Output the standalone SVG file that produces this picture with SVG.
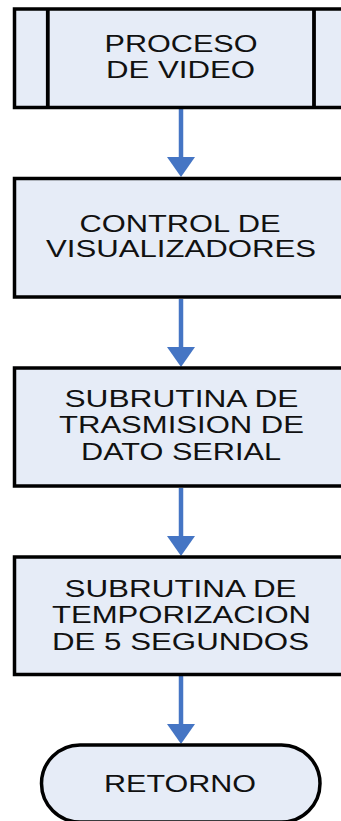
<svg xmlns="http://www.w3.org/2000/svg" width="341" height="821" viewBox="0 0 341 821">
<style>
.box{fill:#E6ECF7;stroke:#000;stroke-width:3.5}
.sep{stroke:#000;stroke-width:3.8;fill:none}
.lbl{font-family:"Liberation Sans",Arial,sans-serif;font-size:23px;fill:#111;text-anchor:middle}
.conn{stroke:#4575C4;stroke-width:4.5;fill:none}
.head{fill:#4575C4}
</style>
<rect width="341" height="821" fill="#fff"/>
<g id="connectors">
<line class="conn" x1="181" y1="109" x2="181" y2="158"/>
<polygon class="head" points="167,157 195,157 181,177"/>
<line class="conn" x1="181" y1="299" x2="181" y2="348"/>
<polygon class="head" points="167,347 195,347 181,367"/>
<line class="conn" x1="181" y1="488" x2="181" y2="537"/>
<polygon class="head" points="167,536 195,536 181,556"/>
<line class="conn" x1="181" y1="676" x2="181" y2="725"/>
<polygon class="head" points="167,724 195,724 181,744"/>
</g>
<g id="n1">
<rect class="box" x="14.5" y="9" width="340" height="98.5"/>
<line class="sep" x1="47.8" y1="9" x2="47.8" y2="107.5"/>
<line class="sep" x1="314" y1="9" x2="314" y2="107.5"/>
<text class="lbl" x="181" y="52" textLength="153" lengthAdjust="spacingAndGlyphs">PROCESO</text>
<text class="lbl" x="180.5" y="78" textLength="149" lengthAdjust="spacingAndGlyphs">DE VIDEO</text>
</g>
<g id="n2">
<rect class="box" x="14.5" y="178.5" width="340" height="118.5"/>
<text class="lbl" x="180" y="232" textLength="201" lengthAdjust="spacingAndGlyphs">CONTROL DE</text>
<text class="lbl" x="181" y="257" textLength="270" lengthAdjust="spacingAndGlyphs">VISUALIZADORES</text>
</g>
<g id="n3">
<rect class="box" x="14.5" y="368" width="340" height="118"/>
<text class="lbl" x="181.5" y="407" textLength="234" lengthAdjust="spacingAndGlyphs">SUBRUTINA DE</text>
<text class="lbl" x="181.5" y="433" textLength="245" lengthAdjust="spacingAndGlyphs">TRASMISION DE</text>
<text class="lbl" x="181" y="460" textLength="200" lengthAdjust="spacingAndGlyphs">DATO SERIAL</text>
</g>
<g id="n4">
<rect class="box" x="14.5" y="557" width="340" height="117.5"/>
<text class="lbl" x="180.5" y="597" textLength="232" lengthAdjust="spacingAndGlyphs">SUBRUTINA DE</text>
<text class="lbl" x="181.5" y="623" textLength="259" lengthAdjust="spacingAndGlyphs">TEMPORIZACION</text>
<text class="lbl" x="180.5" y="650" textLength="257" lengthAdjust="spacingAndGlyphs">DE 5 SEGUNDOS</text>
</g>
<g id="n5">
<rect class="box" x="41.5" y="745" width="278.5" height="77" rx="38.5" ry="38.5"/>
<text class="lbl" x="180" y="792" textLength="152" lengthAdjust="spacingAndGlyphs">RETORNO</text>
</g>
</svg>
